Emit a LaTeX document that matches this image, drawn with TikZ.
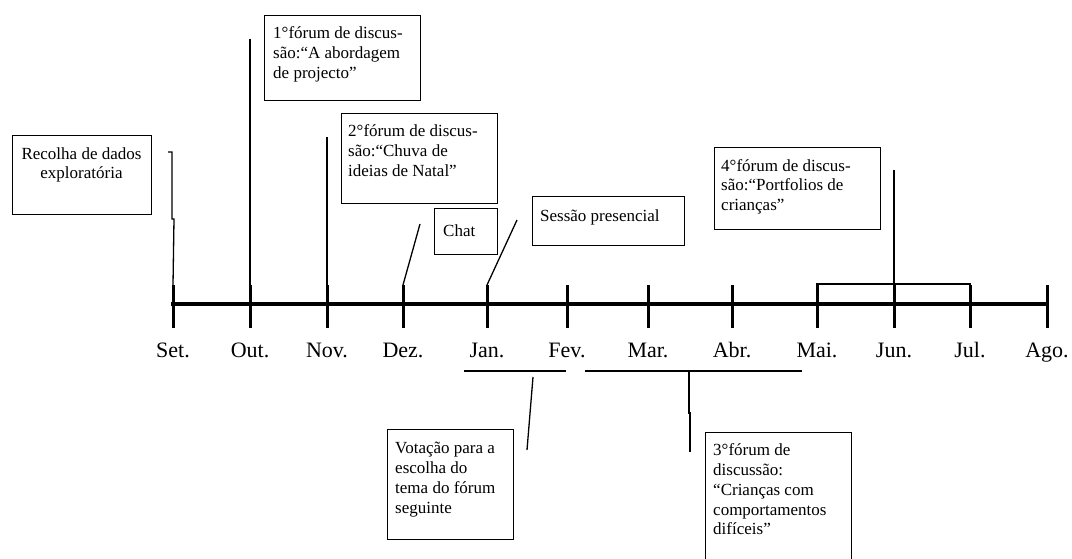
\documentclass[tikz,border=0pt]{standalone}
\usepackage{fontspec}
\setmainfont{Liberation Serif}
\usetikzlibrary{calc}
\begin{document}
\begin{tikzpicture}[x=1pt,y=-1pt,
  box/.style={draw,line width=1.3pt,inner sep=0pt,anchor=north west},
  txt/.style={inner sep=0pt,anchor=north west,align=left,font=\fontsize{17}{19.8}\selectfont},
  conn/.style={line width=1.3pt},
  axis/.style={line width=4pt},
  tickmark/.style={line width=3pt},
  month/.style={anchor=base,inner sep=0pt,font=\fontsize{22}{24}\selectfont}]
\useasboundingbox (0,0) rectangle (1072,558);

% timeline
\coordinate (L) at (171,304);
\coordinate (R) at (1049,304);
\draw[axis] (L) -- (R);
\foreach \n/\x/\lab in {Set/173/Set., Out/250/Out., Nov/327/Nov., Dez/403/Dez., Jan/487/Jan., Fev/567/Fev., Mar/648/Mar., Abr/732/Abr., Mai/817/Mai., Jun/894/Jun., Jul/970/Jul., Ago/1047/Ago.}{
  \coordinate (u\n) at (\x,285);
  \coordinate (d\n) at (\x,328);
  \draw[tickmark] (u\n) -- (d\n);
  \node[month] (m\n) at (\x,357) {\lab};
}

% boxes
\node[box,minimum width=139pt,minimum height=79pt] (b0) at (12,135) {};
\node[txt,anchor=north,align=center] (t0) at (81.5,147) {Recolha de dados\\exploratória};

\node[box,minimum width=156pt,minimum height=85.5pt] (b1) at (264,14.5) {};
\node[txt] (t1) at (273,26.5) {1°fórum de discus-\\são:``A abordagem\\de projecto''};

\node[box,minimum width=155.5pt,minimum height=90pt] (b2) at (341,112.6) {};
\node[txt] (t2) at (348,124.6) {2°fórum de discus-\\são:``Chuva de\\ideias de Natal''};

\node[box,minimum width=62.5pt,minimum height=46pt] (b5) at (434,208) {};
\node[txt] (t5) at (443,224) {Chat};

\node[box,minimum width=152pt,minimum height=49pt] (b6) at (532,196) {};
\node[txt] (t6) at (540,209.5) {Sessão presencial};

\node[box,minimum width=166pt,minimum height=82pt] (b4) at (714,147) {};
\node[txt] (t4) at (721,159) {4°fórum de discus-\\são:``Portfolios de\\crianças''};

\node[box,minimum width=126pt,minimum height=110pt] (b7) at (387,429) {};
\node[txt] (t7) at (395,442) {Votação para a\\escolha do\\tema do fórum\\seguinte};

\node[box,minimum width=146pt,minimum height=140pt] (b3) at (705,432) {};
\node[txt] (t3) at (713,443.5) {3°fórum de\\discussão:\\``Crianças com\\comportamentos\\difíceis''};

% connectors above
\coordinate (s0) at (168,152);
\draw[conn] (s0) -- ++(4,0) |- (174,219) -- (uSet);
\coordinate (s1) at (250,38.6);
\draw[conn] (s1) -- (uOut);
\coordinate (s2) at (327,137);
\draw[conn] (s2) -- (uNov);
\coordinate (s3) at (420,224);
\draw[conn] (s3) -- (uDez);
\coordinate (s4) at (517,220);
\draw[conn] (s4) -- (uJan);
\coordinate (s5) at (894,170);
\draw[conn] (s5) -- (uJun);

% bracket Mai-Jul
\coordinate (k1) at (817,284);
\coordinate (k2) at (970,284);
\draw[conn] (uMai |- L) -- (k1) -- (k2) -- (uJul |- L);

% spans below
\coordinate (a1) at (464,371);
\coordinate (a2) at (566,371);
\draw[conn] (a1) -- (a2);
\coordinate (a3) at (585,371);
\coordinate (a4) at (802,371);
\draw[conn] (a3) -- (a4);
\coordinate (v1) at (533,377);
\coordinate (v2) at (527,450);
\draw[conn] (v1) -- (v2);
\coordinate (w1) at (689,371);
\coordinate (w2) at (690,452);
\draw[conn] (w1) -- (689,413) -- (690,413) -- (w2);
\end{tikzpicture}
\end{document}
